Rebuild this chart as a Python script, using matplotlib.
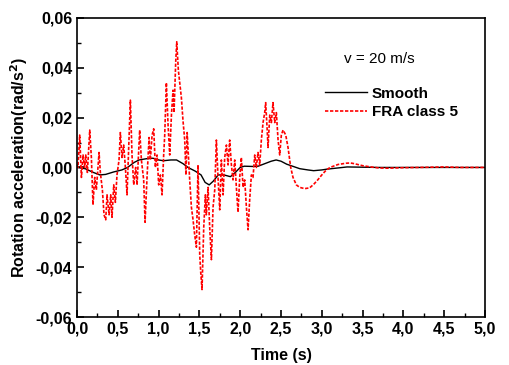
import matplotlib
matplotlib.use("Agg")
import matplotlib.pyplot as plt
from matplotlib.ticker import MultipleLocator, FuncFormatter

plt.rcParams['font.family'] = ['Liberation Sans', 'DejaVu Sans']

# FRA class 5 (red, dashed)
fra_t = [0.0, 0.012, 0.033, 0.054, 0.074, 0.094, 0.107, 0.127, 0.156, 0.176, 0.196,
         0.217, 0.237, 0.27, 0.286, 0.311, 0.331, 0.352, 0.368, 0.393, 0.413, 0.429,
         0.45, 0.47, 0.49, 0.515, 0.531, 0.552, 0.572, 0.593, 0.613, 0.634, 0.654,
         0.674, 0.695, 0.719, 0.736, 0.768, 0.789, 0.817, 0.834, 0.858, 0.883, 0.899,
         0.92, 0.94, 0.96, 0.981, 1.001, 1.022, 1.042, 1.062, 1.075, 1.095, 1.116,
         1.136, 1.157, 1.177, 1.189, 1.21, 1.222, 1.242, 1.259, 1.279, 1.299, 1.32,
         1.335, 1.35, 1.361, 1.381, 1.402, 1.422, 1.442, 1.463, 1.483, 1.504, 1.516,
         1.532, 1.553, 1.573, 1.585, 1.606, 1.626, 1.647, 1.667, 1.688, 1.708, 1.728,
         1.749, 1.769, 1.79, 1.81, 1.831, 1.851, 1.871, 1.892, 1.912, 1.933, 1.953,
         1.973, 1.994, 2.014, 2.035, 2.055, 2.076, 2.096, 2.116, 2.137, 2.157, 2.178,
         2.198, 2.218, 2.239, 2.259, 2.28, 2.3, 2.312, 2.329, 2.341, 2.362, 2.382,
         2.402, 2.423, 2.443, 2.464, 2.484, 2.504, 2.525, 2.558, 2.586, 2.619, 2.647,
         2.688, 2.729, 2.79, 2.85, 2.9, 2.95, 3.0, 3.05, 3.1, 3.2, 3.3, 3.35, 3.4,
         3.5, 3.6, 3.7, 3.8, 3.9, 4.0, 4.2, 4.5, 4.7, 5.0]
fra_y = [0.001, 0.0, 0.013, -0.004, 0.005, 0.0, 0.005, -0.002, 0.015, 0.004, -0.015,
         -0.004, -0.009, 0.006, -0.002, -0.009, -0.019, -0.021, -0.011, -0.019, -0.011, -0.020,
         -0.007, -0.014, -0.003, 0.003, 0.014, 0.004, 0.009, 0.0, -0.011, 0.009, 0.027,
         0.005, -0.007, 0.0, -0.007, 0.015, 0.003, -0.005, -0.022, -0.004, 0.012, 0.003,
         0.013, 0.0155, 0.0, 0.005, -0.007, -0.003, -0.011, 0.005, 0.013, 0.034, 0.017,
         0.005, 0.021, 0.031, 0.022, 0.0427, 0.0504, 0.039, 0.034, 0.028, 0.0187, 0.011,
         -0.003, 0.014, 0.007, -0.005, -0.016, -0.021, -0.027, -0.032, 0.001, -0.035, -0.042,
         -0.049, -0.024, -0.011, -0.019, -0.008, -0.024, -0.037, -0.016, -0.009, 0.011, -0.004,
         -0.017, 0.003, -0.011, 0.004, 0.009, 0.001, 0.011, 0.001, -0.005, 0.003, -0.008,
         -0.018, -0.004, 0.004, -0.008, -0.005, -0.016, -0.025, -0.013, -0.003, -0.004, 0.005,
         0.0, 0.006, 0.001, 0.011, 0.018, 0.022, 0.026, 0.016, 0.008, 0.021, 0.018,
         0.026, 0.018, 0.022, 0.011, 0.005, 0.013, 0.015, 0.013, 0.008, 0.0, -0.004,
         -0.007, -0.008, -0.0085, -0.0082, -0.0068, -0.005, -0.003, -0.0012, 0.0, 0.0012, 0.0017, 0.0018, 0.0015,
         0.0007, 0.0002, -0.0002, -0.0003, -0.0002, -0.0001, 0.0, 0.0002, 0.0, 0.0]

# Smooth (black, solid)
smooth_t = [0.0, 0.1, 0.2, 0.28, 0.35, 0.45, 0.55, 0.62, 0.7, 0.76, 0.85, 0.93, 1.0,
            1.06, 1.15, 1.22, 1.3, 1.36, 1.45, 1.52, 1.57, 1.62, 1.67, 1.73, 1.8, 1.88,
            1.94, 2.0, 2.05, 2.15, 2.22, 2.3, 2.38, 2.44, 2.5, 2.57, 2.65, 2.73, 2.83,
            2.9, 3.0, 3.06, 3.2, 3.31, 3.5, 3.7, 5.0]
smooth_y = [0.0, -0.0005, -0.002, -0.003, -0.0028, -0.0018, -0.001, 0.0, 0.002, 0.003,
            0.0035, 0.0037, 0.003, 0.0027, 0.003, 0.003, 0.0015, 0.0, -0.0015, -0.003,
            -0.006, -0.007, -0.0055, -0.003, -0.003, -0.0037, -0.002, 0.0, 0.0005, 0.0004,
            0.0005, 0.0015, 0.0025, 0.003, 0.0025, 0.0013, 0.0004, -0.0005, -0.001, -0.0013,
            -0.001, -0.0007, -0.0002, 0.0002, 0.0001, 0.0, 0.0]

fig = plt.figure(figsize=(5.1, 3.65), dpi=100)
ax = fig.add_axes([0.151, 0.1315, 0.80, 0.8195])

ax.plot(smooth_t, smooth_y, color='black', lw=1.0, label='Smooth')
ax.plot(fra_t, fra_y, color='red', lw=1.2, ls=(0, (2, 1)), label='FRA class 5')

ax.set_xlim(0, 5)
ax.set_ylim(-0.06, 0.06)
ax.xaxis.set_major_locator(MultipleLocator(0.5))
ax.xaxis.set_minor_locator(MultipleLocator(0.25))
ax.yaxis.set_major_locator(MultipleLocator(0.02))
ax.yaxis.set_minor_locator(MultipleLocator(0.01))
ax.xaxis.set_major_formatter(FuncFormatter(lambda v, p: f"{v:.1f}".replace('.', ',')))
ax.yaxis.set_major_formatter(FuncFormatter(lambda v, p: f"{v:.2f}".replace('.', ',')))
ax.tick_params(which='both', direction='in', top=False, right=False)
ax.tick_params(which='major', length=5, width=1.2, labelsize=11.5)
ax.tick_params(which='minor', length=3, width=1.0)
for lab in ax.get_xticklabels() + ax.get_yticklabels():
    lab.set_fontweight('bold')
for s in ax.spines.values():
    s.set_linewidth(1.2)

ax.set_xlabel('Time (s)', fontsize=11.5, fontweight='bold', labelpad=8)
ax.set_ylabel('Rotation acceleration(rad/s$^\\mathbf{2}$)', fontsize=11.5,
              fontweight='bold', labelpad=4)

ax.text(3.7, 0.0435, 'v = 20 m/s', fontsize=11, ha='center', va='center')
leg = ax.legend(loc='upper left', bbox_to_anchor=(0.607, 0.77), frameon=False,
                prop={'size': 11, 'weight': 'bold'}, handlelength=2.8,
                handletextpad=0.3, labelspacing=0.3, borderpad=0, borderaxespad=0)

fig.savefig('out.png', dpi=100)
